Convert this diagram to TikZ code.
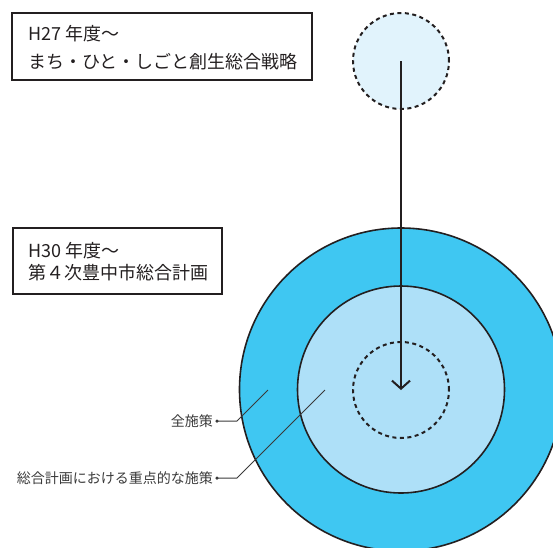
\documentclass[tikz,border=0pt]{standalone}
\usepackage{fontspec}
\setmainfont{Noto Sans CJK JP}
\usetikzlibrary{arrows.meta}
\definecolor{outerblue}{HTML}{3FC7F2}
\definecolor{midblue}{HTML}{AEE0F8}
\definecolor{paleblue}{HTML}{E1F3FC}
\definecolor{ink}{HTML}{231F20}
\definecolor{labelgray}{HTML}{3A3A3A}
\tikzset{
  titlebox/.style={draw=ink, line width=2pt, inner sep=0pt},
  titletext/.style={anchor=west, font=\fontsize{18}{20}\selectfont, text=ink, inner sep=0pt},
  ring/.style={circle, draw=ink, line width=1.6pt, inner sep=0pt},
  dashring/.style={circle, draw=ink, line width=2pt, dash pattern=on 4pt off 3.5pt, inner sep=0pt},
  labeltext/.style={anchor=east, font=\fontsize{14}{16}\selectfont, text=labelgray, inner sep=0pt},
  leader/.style={draw=labelgray, line width=1pt},
  dot/.style={circle, fill=labelgray, inner sep=0pt, minimum size=3.5pt}
}
\begin{document}
\begin{tikzpicture}[x=1pt,y=-1pt]
\useasboundingbox (0,0) rectangle (553,547);
\clip (0,0) rectangle (553,547);
% circles
\node[ring, fill=outerblue, minimum size=323pt] (outer) at (401,389.5) {};
\node[ring, fill=midblue, minimum size=207pt] (mid) at (401,389.5) {};
\node[dashring, minimum size=96pt] (inner) at (401,390) {};
\node[dashring, fill=paleblue, minimum size=96pt] (future) at (401,61) {};
% arrow
\draw[ink, line width=2pt, -{Straight Barb[length=8pt,width=18pt,line width=2pt]}] (future.center) -- (inner.center);
% title boxes
\draw[titlebox] (12,13) rectangle (312,80);
\node[titletext] (t1a) at (28,34) {H27 年度～};
\node[titletext] (t1b) at (28,62) {まち・ひと・しごと創生総合戦略};
\draw[titlebox] (13,228) rectangle (222,294);
\node[titletext] (t2a) at (28,251) {H30 年度～};
\node[titletext] (t2b) at (28,273) {第４次豊中市総合計画};
% labels
\node[labeltext] (l1) at (213,421) {全施策};
\node[labeltext] (l2) at (213,478) {総合計画における重点的な施策};
\node[dot] (d1) at (217,421) {};
\node[dot] (d2) at (217,478) {};
\coordinate (k1) at (237,421);
\coordinate (k2) at (237,478);
\coordinate (e1) at (268,390);
\coordinate (e2) at (325,390);
\draw[leader] (d1.center) -- (k1) -- (e1);
\draw[leader] (d2.center) -- (k2) -- (e2);
\end{tikzpicture}
\end{document}
